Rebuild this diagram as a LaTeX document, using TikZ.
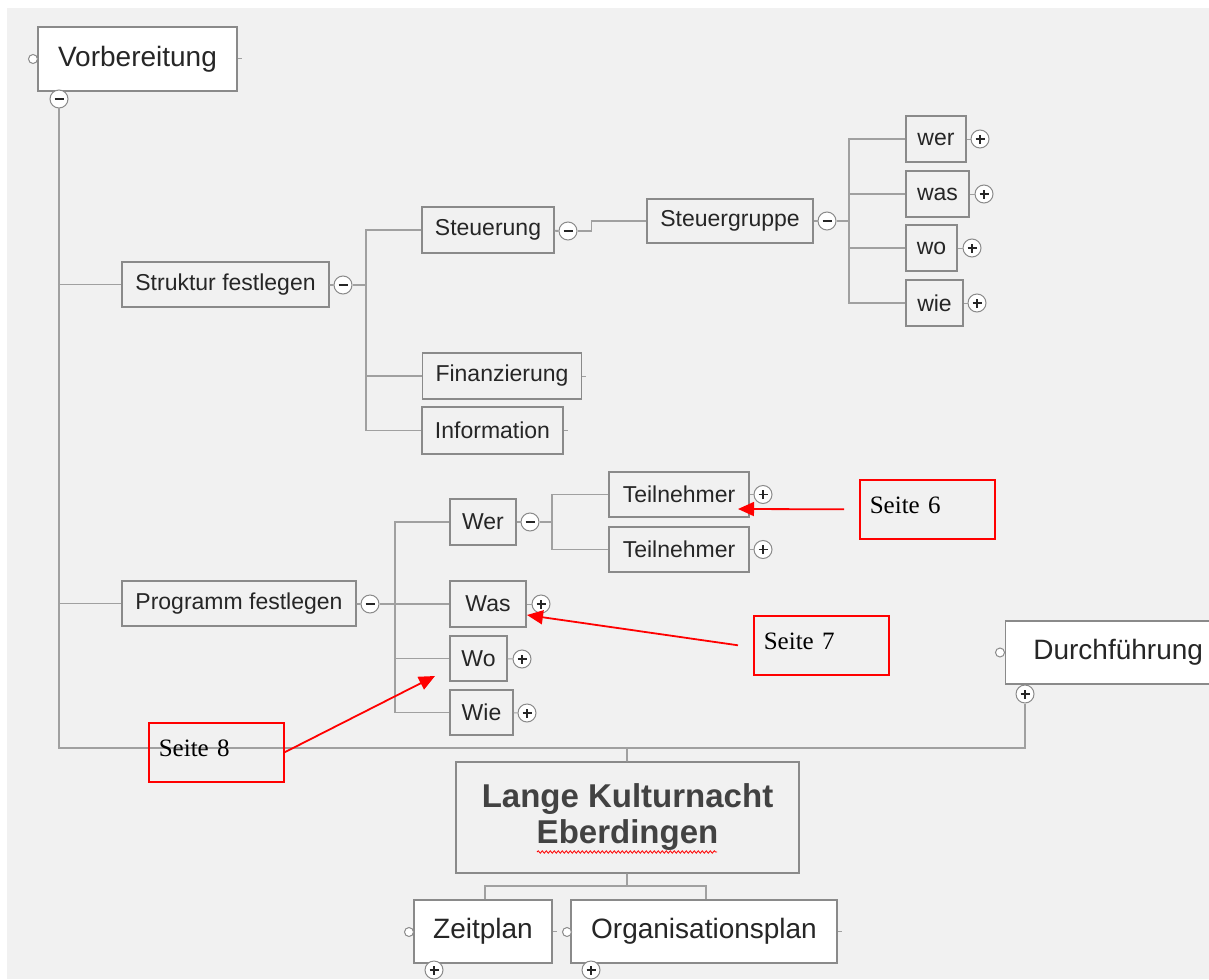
\documentclass[tikz,border=0pt]{standalone}
\usepackage{fontspec}
\setmainfont{Liberation Sans}
\newfontfamily\notefont{Liberation Serif}
\usetikzlibrary{arrows.meta,decorations.pathmorphing}

\definecolor{bggray}{RGB}{241,241,241}
\definecolor{linegray}{RGB}{160,160,160}
\definecolor{framegray}{RGB}{138,138,138}
\definecolor{inkgray}{RGB}{38,38,38}
\definecolor{titlegray}{RGB}{66,66,66}

\tikzset{
  box/.style={draw=framegray, line width=1.3pt, fill=bggray, text=inkgray, inner sep=0pt,
    minimum height=46pt, font=\fontsize{23}{27}\selectfont},
  topbox/.style={box, fill=white, minimum height=63pt, font=\fontsize{28}{32}\selectfont},
  conn/.style={draw=linegray, line width=1.8pt},
  knob/.style={circle, draw=framegray, line width=1pt, fill=white, minimum size=18pt, inner sep=0pt},
  knobminus/.style={knob, path picture={
    \draw[inkgray, line width=1.3pt] ([xshift=-4.5pt]path picture bounding box.center)
      -- ([xshift=4.5pt]path picture bounding box.center);}},
  knobplus/.style={knob, path picture={
    \draw[inkgray, line width=1.3pt] ([xshift=-4.5pt]path picture bounding box.center)
      -- ([xshift=4.5pt]path picture bounding box.center);
    \draw[inkgray, line width=1.3pt] ([yshift=-4.5pt]path picture bounding box.center)
      -- ([yshift=4.5pt]path picture bounding box.center);}},
  handle/.style={circle, draw=framegray, line width=1pt, fill=white, minimum size=9pt, inner sep=0pt},
  note/.style={draw=red, line width=1.6pt, anchor=north west, text=black, align=left,
    text width=115pt, inner xsep=10pt, inner ysep=0pt, minimum height=59pt,
    text height=18pt, text depth=9pt, font=\notefont\fontsize{25}{29}\selectfont},
  pointer/.style={red, line width=1.8pt, -{Triangle[length=16pt,width=14pt]}}
}

\begin{document}
\begin{tikzpicture}[x=1pt,y=-1pt]

\path[use as bounding box, fill=white] (0,0) rectangle (1209,979);
\fill[bggray] (7,8) rectangle (1209,979);

% top level
\node[topbox, minimum width=199pt, minimum height=64pt] (vorb) at (137.5,59) {Vorbereitung};
\node[topbox, minimum width=225pt, anchor=west] (durch) at (1005,652.5) {Durchführung};
\node[topbox, minimum width=138pt] (zeit) at (483,931.5) {Zeitplan};
\node[topbox, minimum width=266pt] (orga) at (704,931.5) {Organisationsplan};
\node[box, minimum width=343pt, minimum height=111pt, align=center, text=titlegray,
  font=\bfseries\fontsize{33}{36}\selectfont] (lange) at (627.5,817.5) {Lange Kulturnacht\\Eberdingen};
\draw[red, line width=0.8pt, decorate, decoration={snake, amplitude=1.2pt, segment length=4pt}]
  (537,852) -- (717,852);

\node[handle] (vorbh) at (33,59) {};
\node[handle] (durchh) at (1000,652.5) {};
\node[handle] (zeith) at (409,932) {};
\node[handle] (orgah) at (567,932) {};

% second level
\node[box, minimum width=207pt, minimum height=45pt] (struktur) at (225.5,284.5) {Struktur festlegen};
\node[box, minimum width=234pt, minimum height=45pt] (programm) at (239,603.5) {Programm festlegen};

\node[box, minimum width=132pt] (steuerung) at (488,230) {Steuerung};
\node[box, minimum width=159pt] (finanz) at (502,376) {Finanzierung};
\node[box, minimum width=141pt, minimum height=47pt] (info) at (492.5,430.5) {Information};
\node[box, minimum width=166pt, minimum height=44pt] (gruppe) at (730,221) {Steuergruppe};

\node[box, minimum width=60pt] (wer) at (936,139) {wer};
\node[box, minimum width=63pt] (was) at (937.5,194) {was};
\node[box, minimum width=51pt] (wo) at (931.5,248) {wo};
\node[box, minimum width=57pt] (wie) at (934.5,303) {wie};

\node[box, minimum width=66pt] (Wer) at (483,522) {Wer};
\node[box, minimum width=76pt] (Was) at (488,604) {Was};
\node[box, minimum width=57pt, minimum height=45pt] (Wo) at (478.5,658.5) {Wo};
\node[box, minimum width=63pt, minimum height=45pt] (Wie) at (481.5,712.5) {Wie};
\node[box, minimum width=140pt, minimum height=45pt] (teil1) at (679,494.5) {Teilnehmer};
\node[box, minimum width=140pt, minimum height=45pt] (teil2) at (679,549.5) {Teilnehmer};

% knobs
\node[knobminus] (vorbk) at (59,99) {};
\node[knobplus] (durchk) at (1025,694) {};
\node[knobplus] (zeitk) at (434,970) {};
\node[knobplus] (orgak) at (591,970) {};
\node[knobminus] (strukturk) at (343,285) {};
\node[knobminus] (programmk) at (370,604) {};
\node[knobminus] (steuerungk) at (568,231) {};
\node[knobminus] (gruppek) at (827,221) {};
\node[knobplus] (werk) at (980,139) {};
\node[knobplus] (wask) at (984,194) {};
\node[knobplus] (wok) at (972,248) {};
\node[knobplus] (wiek) at (977,303) {};
\node[knobminus] (Werk) at (530,522) {};
\node[knobplus] (Wask) at (541,604) {};
\node[knobplus] (Wok) at (522,659) {};
\node[knobplus] (Wiek) at (527,713) {};
\node[knobplus] (teil1k) at (763,494.5) {};
\node[knobplus] (teil2k) at (763,549.5) {};

% buses
\coordinate (jL) at (59,748);
\coordinate (jR) at (1025,748);
\coordinate (jM) at (627,748);
\coordinate (jB) at (627,886);
\coordinate (b1) at (366,0);
\coordinate (b2) at (395,0);
\coordinate (b3) at (849,0);
\coordinate (b4) at (552,0);

\draw[conn] (vorbk) -- (jL) -- (jR) -- (durchk);
\draw[conn] (jM) -- (lange);
\draw[conn] (lange) -- (jB);
\draw[conn] (zeit.north -| 485,0) |- (jB) -| (orga.north -| 706,0);
\draw[conn] (jL |- struktur.west) -- (struktur.west);
\draw[conn] (jL |- programm.west) -- (programm.west);

\draw[conn] (struktur) -- (strukturk);
\draw[conn] (strukturk) -- (strukturk -| b1);
\draw[conn] (steuerung.west) -| (b1 |- info.west) -- (info.west);
\draw[conn] (finanz.west) -- (finanz.west -| b1);
\draw[conn] (steuerung) -- (steuerungk);
\draw[conn] (steuerungk.east) -- ++(14,0) |- (gruppe.west);
\draw[conn] (gruppe) -- (gruppek);
\draw[conn] (gruppek) -- (gruppek -| b3);
\draw[conn] (wer.west) -| (b3 |- wie.west) -- (wie.west);
\draw[conn] (was.west) -- (was.west -| b3);
\draw[conn] (wo.west) -- (wo.west -| b3);

\draw[conn] (programm) -- (programmk);
\draw[conn] (programmk) -- (programmk -| b2);
\draw[conn] (Wer.west) -| (b2 |- Wie.west) -- (Wie.west);
\draw[conn] (Was.west) -- (Was.west -| b2);
\draw[conn] (Wo.west) -- (Wo.west -| b2);
\draw[conn] (Wer) -- (Werk);
\draw[conn] (Werk) -- (Werk -| b4);
\draw[conn] (teil1.west) -| (b4 |- teil2.west) -- (teil2.west);

\foreach \b in {wer,was,wo,wie,Was,Wo,Wie,teil1,teil2}
  \draw[conn, line width=1pt] (\b) -- (\b k);
\foreach \b in {vorb,finanz,info,zeit,orga}
  \draw[conn, line width=1pt] (\b.east) -- ++(4,0);
\draw[conn, line width=1pt] (vorbh) -- (vorb);
\draw[conn, line width=1pt] (durchh) -- (durch);
\draw[conn, line width=1pt] (zeith) -- (zeit);
\draw[conn, line width=1pt] (orgah) -- (orga);

% red notes
\node[note] (seite6) at (859,479) {Seite 6};
\node[note] (seite7) at (753,615) {Seite 7};
\node[note] (seite8) at (148,722) {Seite 8};
\coordinate (tip6) at (738,509);
\coordinate (tip7) at (527,615);
\coordinate (tip8) at (435,676);
\draw[pointer] ([xshift=-15pt]seite6.west) -- (tip6);
\draw[pointer] ([xshift=-15pt]seite7.west) -- (tip7);
\draw[pointer] (seite8.east) -- (tip8);

\end{tikzpicture}
\end{document}
